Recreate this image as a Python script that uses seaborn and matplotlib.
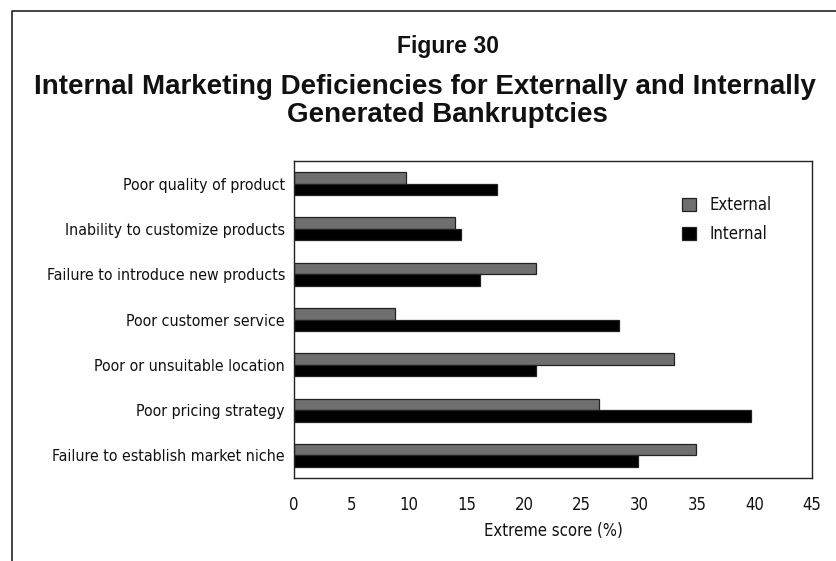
import os
import matplotlib
matplotlib.use("Agg")
import matplotlib.pyplot as plt
import seaborn as sns
import pandas as pd
from matplotlib.lines import Line2D
from matplotlib.patches import Patch
from matplotlib import font_manager as fm

categories = [
    "Poor quality of product",
    "Inability to customize products",
    "Failure to introduce new products",
    "Poor customer service",
    "Poor or unsuitable location",
    "Poor pricing strategy",
    "Failure to establish market niche",
]
external = [9.7, 14.0, 21.0, 8.8, 33.0, 26.5, 34.9]
internal = [17.6, 14.5, 16.2, 28.2, 21.0, 39.7, 29.9]
series = ["External", "Internal"]
xticks = [0, 5, 10, 15, 20, 25, 30, 35, 40, 45]

df = pd.DataFrame({
    "category": categories * 2,
    "value": external + internal,
    "series": [series[0]] * len(categories) + [series[1]] * len(categories),
})


def find_font(basenames):
    files = {os.path.basename(f.fname).lower(): f.fname for f in fm.fontManager.ttflist}
    for b in basenames:
        if b.lower() in files:
            return files[b.lower()]
    return None


narrow_path = find_font(["LiberationSansNarrow-Regular.ttf", "DejaVuSansCondensed.ttf"])
bold_path = find_font(["LiberationSans-Bold.ttf", "DejaVuSans-Bold.ttf"])


def fp(path, size, fallback_weight="normal"):
    if path:
        return fm.FontProperties(fname=path, size=size)
    return fm.FontProperties(family="DejaVu Sans", weight=fallback_weight, size=size)


sns.set_style("white")

fig = plt.figure(figsize=(8.36, 5.61), dpi=100)
ax = fig.add_axes([294 / 836, 1 - 478 / 561, (812 - 294) / 836, (478 - 161) / 561])

palette = {"External": "#6f6f6f", "Internal": "#000000"}
sns.barplot(data=df, y="category", x="value", hue="series", hue_order=series,
            order=categories, palette=palette, orient="h", width=0.51,
            edgecolor="#222222", linewidth=0.9, saturation=1, legend=False, ax=ax)

ax.set_xlim(0, 45)
ax.set_ylim(6.5, -0.5)
ax.set_xticks(xticks)
ax.set_xticklabels([str(t) for t in xticks])
for lab in ax.get_xticklabels():
    lab.set_fontproperties(fp(narrow_path, 12))
    lab.set_color("#111111")
for lab in ax.get_yticklabels():
    lab.set_fontproperties(fp(narrow_path, 11.4))
    lab.set_color("#111111")
ax.tick_params(axis="x", direction="out", length=6, width=1, color="#222222", pad=7)
ax.tick_params(axis="y", length=0, pad=6.5)
ax.set_ylabel("")
ax.set_xlabel("Extreme score (%)", fontproperties=fp(narrow_path, 12), color="#111111",
              labelpad=5.5)
for s in ax.spines.values():
    s.set_visible(True)
    s.set_color("#222222")
    s.set_linewidth(1)

handles = [Patch(facecolor=palette[s], edgecolor="#222222", linewidth=0.9) for s in series]
leg = ax.legend(handles, series, loc="upper left", bbox_to_anchor=(0.72, 0.937),
                frameon=False, prop=fp(narrow_path, 12), handlelength=0.85,
                handleheight=0.85, handletextpad=0.8, labelspacing=0.68)
for t in leg.get_texts():
    t.set_color("#111111")

fig.text(448 / 836, 1 - 47 / 561, "Figure 30", ha="center", va="center",
         fontproperties=fp(bold_path, 16.5, "bold"), color="#111111")
fig.text(425 / 836, 1 - 87 / 561,
         "Internal Marketing Deficiencies for Externally and Internally",
         ha="center", va="center", fontproperties=fp(bold_path, 20, "bold"), color="#111111")
fig.text(447 / 836, 1 - 115 / 561, "Generated Bankruptcies",
         ha="center", va="center", fontproperties=fp(bold_path, 20, "bold"), color="#111111")

fig.add_artist(Line2D([12 / 836, 12 / 836, 1.0], [0.0, 1 - 11 / 561, 1 - 11 / 561],
                      transform=fig.transFigure, color="#222222", linewidth=1.2))

fig.savefig("out.png", dpi=100)
